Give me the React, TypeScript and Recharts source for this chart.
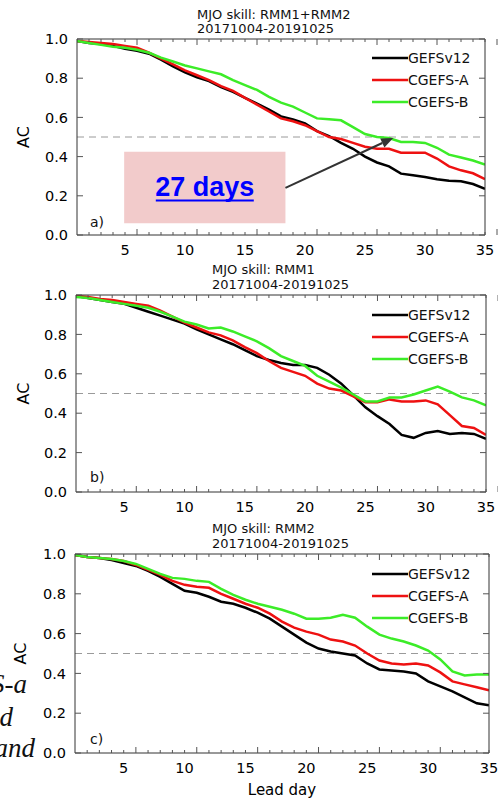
import React from 'react';
import { LineChart, Line, XAxis, YAxis, ReferenceLine, ReferenceArea, Legend } from 'recharts';

const FONT = '"DejaVu Sans", sans-serif';

const DAYS = [1, 2, 3, 4, 5, 6, 7, 8, 9, 10, 11, 12, 13, 14, 15, 16, 17, 18, 19, 20, 21, 22, 23, 24, 25, 26, 27, 28, 29, 30, 31, 32, 33, 34, 35];
const MAJOR_X_TICKS = [5, 10, 15, 20, 25, 30, 35];
const Y_TICKS = [0, 0.2, 0.4, 0.6, 0.8, 1.0];

const SERIES = [
  { key: 'gefs', name: 'GEFSv12', color: '#000000' },
  { key: 'cga', name: 'CGEFS-A', color: '#ee1111' },
  { key: 'cgb', name: 'CGEFS-B', color: '#3cec28' },
];

// a) RMM1+RMM2
const A_GEFS = [0.99, 0.98, 0.975, 0.965, 0.95, 0.94, 0.925, 0.895, 0.86, 0.83, 0.805, 0.785, 0.755, 0.73, 0.70, 0.67, 0.64, 0.605, 0.59, 0.57, 0.53, 0.505, 0.47, 0.44, 0.40, 0.37, 0.35, 0.313, 0.305, 0.296, 0.285, 0.277, 0.274, 0.26, 0.235];
const A_CGA = [0.99, 0.985, 0.98, 0.975, 0.965, 0.955, 0.93, 0.90, 0.87, 0.84, 0.815, 0.79, 0.76, 0.735, 0.70, 0.665, 0.63, 0.595, 0.58, 0.56, 0.53, 0.50, 0.49, 0.47, 0.45, 0.44, 0.44, 0.42, 0.42, 0.42, 0.39, 0.35, 0.33, 0.315, 0.285];
const A_CGB = [0.99, 0.98, 0.97, 0.96, 0.955, 0.945, 0.93, 0.905, 0.885, 0.865, 0.85, 0.835, 0.82, 0.79, 0.765, 0.74, 0.705, 0.675, 0.655, 0.625, 0.595, 0.59, 0.585, 0.55, 0.515, 0.50, 0.495, 0.475, 0.475, 0.47, 0.445, 0.41, 0.395, 0.38, 0.36];

// b) RMM1
const B_GEFS = [0.995, 0.985, 0.975, 0.965, 0.955, 0.935, 0.915, 0.895, 0.875, 0.855, 0.825, 0.80, 0.775, 0.75, 0.72, 0.69, 0.67, 0.655, 0.645, 0.645, 0.63, 0.595, 0.55, 0.49, 0.43, 0.385, 0.345, 0.29, 0.275, 0.30, 0.31, 0.295, 0.30, 0.295, 0.27];
const B_CGA = [0.995, 0.99, 0.98, 0.975, 0.965, 0.955, 0.945, 0.92, 0.89, 0.86, 0.835, 0.81, 0.795, 0.77, 0.735, 0.705, 0.665, 0.63, 0.61, 0.59, 0.55, 0.525, 0.515, 0.485, 0.455, 0.455, 0.47, 0.46, 0.46, 0.465, 0.445, 0.39, 0.335, 0.325, 0.29];
const B_CGB = [0.99, 0.985, 0.975, 0.965, 0.955, 0.945, 0.935, 0.915, 0.89, 0.865, 0.85, 0.83, 0.835, 0.815, 0.79, 0.765, 0.73, 0.69, 0.665, 0.64, 0.59, 0.56, 0.53, 0.495, 0.46, 0.46, 0.48, 0.48, 0.495, 0.515, 0.535, 0.51, 0.48, 0.465, 0.44];

// c) RMM2
const C_GEFS = [0.995, 0.985, 0.98, 0.97, 0.955, 0.94, 0.915, 0.885, 0.85, 0.815, 0.805, 0.785, 0.76, 0.75, 0.73, 0.705, 0.675, 0.635, 0.595, 0.555, 0.525, 0.51, 0.50, 0.49, 0.45, 0.42, 0.415, 0.41, 0.40, 0.36, 0.335, 0.31, 0.28, 0.25, 0.24];
const C_CGA = [0.995, 0.985, 0.98, 0.975, 0.965, 0.945, 0.92, 0.895, 0.865, 0.845, 0.835, 0.83, 0.80, 0.775, 0.75, 0.73, 0.70, 0.66, 0.63, 0.61, 0.595, 0.57, 0.56, 0.54, 0.50, 0.465, 0.45, 0.445, 0.45, 0.44, 0.405, 0.36, 0.345, 0.33, 0.315];
const C_CGB = [0.995, 0.985, 0.98, 0.975, 0.965, 0.95, 0.925, 0.90, 0.88, 0.875, 0.865, 0.86, 0.825, 0.795, 0.77, 0.75, 0.735, 0.72, 0.70, 0.675, 0.675, 0.68, 0.695, 0.68, 0.635, 0.595, 0.575, 0.56, 0.54, 0.515, 0.47, 0.41, 0.39, 0.395, 0.395];

const buildRows = (g: number[], a: number[], b: number[]) =>
  DAYS.map((d, i) => ({ day: d, gefs: g[i], cga: a[i], cgb: b[i] }));

const FRAME = '#333';
const TICK_COLOR = '#555';

// inward tick marks drawn by the mirror axes (longer every 5 days)
const makeXTick = (dir: number) => (p: any) => {
  const len = p.payload && p.payload.value % 5 === 0 ? 6 : 3;
  return <line x1={p.x} x2={p.x} y1={p.y} y2={p.y + dir * len} stroke={TICK_COLOR} strokeWidth={1} />;
};
const makeYTick = (dir: number) => (p: any) => (
  <line x1={p.x} x2={p.x + dir * 6} y1={p.y} y2={p.y} stroke={TICK_COLOR} strokeWidth={1} />
);
const bottomTick = makeXTick(-1);
const topTick = makeXTick(1);
const leftTick = makeYTick(1);
const rightTick = makeYTick(-1);

const renderLegend = () => (
  <svg width={110} height={70}>
    {SERIES.map((s, i) => (
      <g key={s.key}>
        <line x1={0} x2={36} y1={8 + i * 22} y2={8 + i * 22} stroke={s.color} strokeWidth={2.5} />
        <text x={36} y={8 + i * 22} dominantBaseline="central" fontSize={14} fontFamily={FONT} fill="#111">
          {s.name}
        </text>
      </g>
    ))}
  </svg>
);

const ArrowShape = (p: any) => {
  const { x1, y1, x2, y2 } = p;
  if ([x1, y1, x2, y2].some((v) => typeof v !== 'number')) return null;
  const ang = Math.atan2(y2 - y1, x2 - x1);
  const L = 12;
  const W = 5;
  const bx = x2 - L * Math.cos(ang);
  const by = y2 - L * Math.sin(ang);
  const pts = `${x2},${y2} ${bx - W * Math.sin(ang)},${by + W * Math.cos(ang)} ${bx + W * Math.sin(ang)},${by - W * Math.cos(ang)}`;
  return (
    <g>
      <line x1={x1} y1={y1} x2={bx} y2={by} stroke="#333" strokeWidth={2} />
      <polygon points={pts} fill="#333" />
    </g>
  );
};

const DaysLabel = (p: any) => {
  const vb = p.viewBox || { x: 123, y: 152, width: 162, height: 71 };
  const cx = vb.x + vb.width / 2;
  const cy = vb.y + vb.height / 2;
  return (
    <g>
      <text x={cx} y={cy + 9} textAnchor="middle" fontFamily='"Liberation Sans", Arial, sans-serif' fontWeight="bold" fontSize={27} fill="#0000ff">
        27 days
      </text>
      <line x1={cx - 49} x2={cx + 49} y1={cy + 13} y2={cy + 13} stroke="#0000ff" strokeWidth={2} />
    </g>
  );
};

interface PanelProps {
  rows: any[];
  top: number;
  height: number;
  margin: { top: number; right: number; bottom: number; left: number };
  yAxisWidth: number;
  xAxisHeight: number;
  acX: number;
  legendTop: number;
  showLeadDay?: boolean;
  annotate?: boolean;
}

const Panel: React.FC<PanelProps> = ({ rows, top, height, margin, yAxisWidth, xAxisHeight, acX, legendTop, showLeadDay, annotate }) => {
  const acLabel = (p: any) => {
    const vb = p.viewBox || { y: margin.top, height: 196 };
    const cy = vb.y + vb.height / 2;
    return (
      <text transform={`translate(${acX},${cy}) rotate(-90)`} textAnchor="middle" dominantBaseline="central" fontSize={16} fontFamily={FONT} fill="#000">
        AC
      </text>
    );
  };
  const leadLabel = (p: any) => {
    const vb = p.viewBox || { x: 75, width: 414, y: 753 };
    return (
      <text x={vb.x + vb.width / 2} y={vb.y + 42} textAnchor="middle" fontSize={15} fontFamily={FONT} fill="#000">
        Lead day
      </text>
    );
  };
  const tickStyle = { fontSize: 14.5, fontFamily: FONT, fill: '#000' };
  const mirrorX = { type: 'number' as const, domain: [1, 35], allowDataOverflow: true, ticks: DAYS, mirror: true, tickLine: false, tickSize: 0, tickMargin: 0, height: 1, interval: 0 as const };
  const mirrorY = { type: 'number' as const, domain: [0, 1], allowDataOverflow: true, ticks: Y_TICKS, mirror: true, tickLine: false, tickSize: 0, tickMargin: 0, width: 1, interval: 0 as const };
  return (
    <div style={{ position: 'absolute', left: 0, top, width: 498, height }}>
      <LineChart width={498} height={height} data={rows} margin={margin}>
        <XAxis
          xAxisId="x"
          dataKey="day"
          type="number"
          domain={[1, 35]}
          allowDataOverflow
          ticks={MAJOR_X_TICKS}
          tickLine={false}
          tickSize={6}
          tickMargin={4}
          tick={tickStyle}
          axisLine={{ stroke: FRAME }}
          height={xAxisHeight}
          label={showLeadDay ? { content: leadLabel } : undefined}
        />
        <XAxis xAxisId="bin" {...mirrorX} tick={bottomTick} axisLine={false} />
        <XAxis xAxisId="tin" orientation="top" {...mirrorX} tick={topTick} axisLine={{ stroke: FRAME }} />
        <YAxis
          yAxisId="y"
          type="number"
          domain={[0, 1]}
          allowDataOverflow
          ticks={Y_TICKS}
          tickFormatter={(v: number) => v.toFixed(1)}
          tickLine={false}
          tickSize={6}
          tickMargin={3}
          tick={tickStyle}
          axisLine={{ stroke: FRAME }}
          width={yAxisWidth}
          label={{ content: acLabel }}
        />
        <YAxis yAxisId="lin" {...mirrorY} tick={leftTick} axisLine={false} />
        <YAxis yAxisId="rin" orientation="right" {...mirrorY} tick={rightTick} axisLine={{ stroke: FRAME }} />
        <ReferenceLine xAxisId="x" yAxisId="y" y={0.5} stroke="#9a9a9a" strokeDasharray="7 5" strokeWidth={1} />
        {annotate && (
          <ReferenceArea
            xAxisId="x"
            yAxisId="y"
            x1={4.93}
            x2={18.37}
            y1={0.06}
            y2={0.425}
            fill="#f2cbcb"
            fillOpacity={1}
            stroke="none"
            label={{ content: (p: any) => <DaysLabel {...p} /> }}
          />
        )}
        {SERIES.map((s) => (
          <Line
            key={s.key}
            xAxisId="x"
            yAxisId="y"
            type="linear"
            dataKey={s.key}
            name={s.name}
            stroke={s.color}
            strokeWidth={2.5}
            dot={false}
            activeDot={false}
            isAnimationActive={false}
          />
        ))}
        {annotate && (
          <ReferenceLine
            xAxisId="x"
            yAxisId="y"
            segment={[{ x: 18.37, y: 0.24 }, { x: 27.35, y: 0.495 }]}
            shape={(p: any) => <ArrowShape {...p} />}
            ifOverflow="visible"
          />
        )}
        <Legend
          content={renderLegend}
          layout="horizontal"
          verticalAlign="middle"
          align="center"
          wrapperStyle={{ left: 372, top: legendTop - 8, width: 110, height: 70 }}
        />
      </LineChart>
    </div>
  );
};

const TITLES = [
  { lines: ['MJO skill: RMM1+RMM2', '20171004-20191025'], x: 197, y: [19, 33] },
  { lines: ['MJO skill: RMM1', '20171004-20191025'], x: 212, y: [274, 289] },
  { lines: ['MJO skill: RMM2', '20171004-20191025'], x: 212, y: [533, 548] },
];
const PANEL_LETTERS = [
  { text: 'a)', x: 90, y: 227 },
  { text: 'b)', x: 90, y: 482 },
  { text: 'c)', x: 90, y: 744 },
];
const FRAGMENTS = [
  { text: 'S-a', x: 27, y: 693 },
  { text: 'd', x: 13, y: 726 },
  { text: 'and', x: 35, y: 757 },
];

const App: React.FC = () => {
  return (
    <div style={{ position: 'absolute', left: 0, top: 0, width: 498, height: 799, background: '#fff', overflow: 'hidden' }}>
      <Panel rows={buildRows(A_GEFS, A_CGA, A_CGB)} top={0} height={264} margin={{ top: 39, right: 13, bottom: 0, left: 0 }} yAxisWidth={77} xAxisHeight={29} acX={23} legendTop={58} annotate />
      <Panel rows={buildRows(B_GEFS, B_CGA, B_CGB)} top={258} height={263} margin={{ top: 37, right: 12, bottom: 0, left: 0 }} yAxisWidth={76} xAxisHeight={29} acX={23} legendTop={57} />
      <Panel rows={buildRows(C_GEFS, C_CGA, C_CGB)} top={515} height={284} margin={{ top: 39, right: 9, bottom: 0, left: 0 }} yAxisWidth={75} xAxisHeight={46} acX={20} legendTop={59} showLeadDay />
      <svg width={498} height={799} style={{ position: 'absolute', left: 0, top: 0, pointerEvents: 'none' }}>
        {TITLES.map((t, i) => (
          <g key={i}>
            {t.lines.map((line, j) => (
              <text key={j} x={t.x} y={t.y[j]} fontSize={13} fontFamily={FONT} fill="#111">
                {line}
              </text>
            ))}
          </g>
        ))}
        {PANEL_LETTERS.map((l) => (
          <text key={l.text} x={l.x} y={l.y} fontSize={14} fontFamily={FONT} fill="#111">
            {l.text}
          </text>
        ))}
        {FRAGMENTS.map((f) => (
          <text key={f.text} x={f.x} y={f.y} textAnchor="end" fontSize={27} fontStyle="italic" fontFamily='"Liberation Serif", serif' fill="#111">
            {f.text}
          </text>
        ))}
      </svg>
    </div>
  );
};

export default App;
